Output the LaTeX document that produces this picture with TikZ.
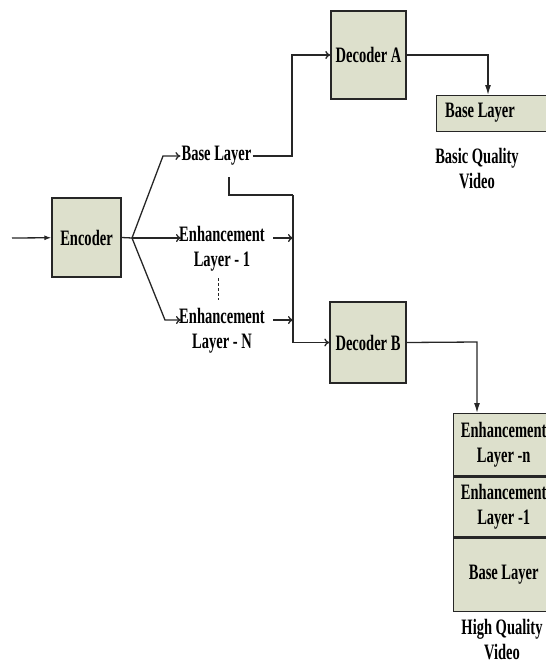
\documentclass[tikz,border=0pt]{standalone}
\usepackage{fontspec}
\setmainfont{Liberation Serif}[FakeStretch=0.66]
\usepackage{tikz}
\usetikzlibrary{arrows.meta}
\definecolor{boxfill}{RGB}{221,224,204}

\begin{document}
\begin{tikzpicture}[x=1pt,y=-1pt,
  txt/.style={font=\fontsize{22}{25}\selectfont\bfseries, inner sep=1pt, align=center},
  blk/.style={txt, draw=black!85, fill=boxfill, line width=1.4pt},
  ln/.style={black!85, line width=1.3pt},
  opn/.style={ln, -{To[length=5pt,width=8pt]}},
  fil/.style={ln, -{Latex[length=10pt,width=6pt]}}]
\useasboundingbox (0,0) rectangle (546,665);
\clip (0,0) rectangle (546,665);

% blocks
\node[blk, minimum width=69, minimum height=79] (enc) at (86.5,237.5) {Encoder};
\node[blk, minimum width=75, minimum height=88] (decA) at (368.5,55) {Decoder A};
\node[blk, minimum width=76, minimum height=81] (decB) at (368,342.5) {Decoder B};

% layer labels
\node[txt] (bl) at (216.5,156) {Base Layer};
\node[txt, anchor=north] (el1) at (222,225) {Enhancement\\Layer - 1};
\node[txt, anchor=north] (elN) at (222,307) {Enhancement\\Layer - N};
\coordinate (in) at (12,238);
\coordinate (fan) at (132,238);
\coordinate (e1in) at (181,238);
\coordinate (eNin) at (181,320);
\coordinate (e1out) at (273,238);
\coordinate (eNout) at (273,320);
\coordinate (up) at (292,156);
\coordinate (bldown) at (229,177);
\coordinate (bus) at (293,195);
\coordinate (bend) at (229,195);
\draw[densely dashed, black!85, line width=0.9pt] (218,278) -- (218,300);

% encoder side
\draw[ln, -{Latex[length=7pt,width=5pt]}] (in) -- (enc);
\draw[ln] (enc.east) -- (fan);
\draw[opn] (fan) -- (163,156) -- (bl.west);
\draw[opn] (fan) -- (e1in);
\draw[opn] (fan) -- (165,320) -- (eNin);

% towards decoders
\draw[opn] (bl.east) -- (up) |- (decA.west);
\draw[ln] (bldown) -- (bend) -- (bus);
\draw[opn] (bus) |- (decB.west);
\draw[opn] (e1out) -- (e1out -| bus);
\draw[opn] (eNout) -- (eNout -| bus);

% outputs
\node[blk, anchor=north west, minimum width=124, minimum height=36] (bq) at (436,95) {};
\node[txt] (bqt) at (480,113) {Base Layer};
\node[txt] (bqv) at (477,169) {Basic Quality\\Video};
\coordinate (dropA) at (488,55);
\draw[fil] (decA.east) -- (dropA) -- (dropA |- bq.north);

\node[blk, anchor=north west, minimum width=100, minimum height=62] (s1) at (453,413) {Enhancement\\Layer -n};
\node[blk, anchor=north west, minimum width=100, minimum height=60] (s2) at (s1.south west) {Enhancement\\Layer -1};
\node[blk, anchor=north west, minimum width=100, minimum height=73] (s3) at (s2.south west) {Base Layer};
\node[txt] (hqv) at (502,640) {High Quality\\Video};
\coordinate (dropB) at (477,342);
\draw[fil] (decB.east) -- (dropB) -- (dropB |- s1.north);

\end{tikzpicture}
\end{document}
